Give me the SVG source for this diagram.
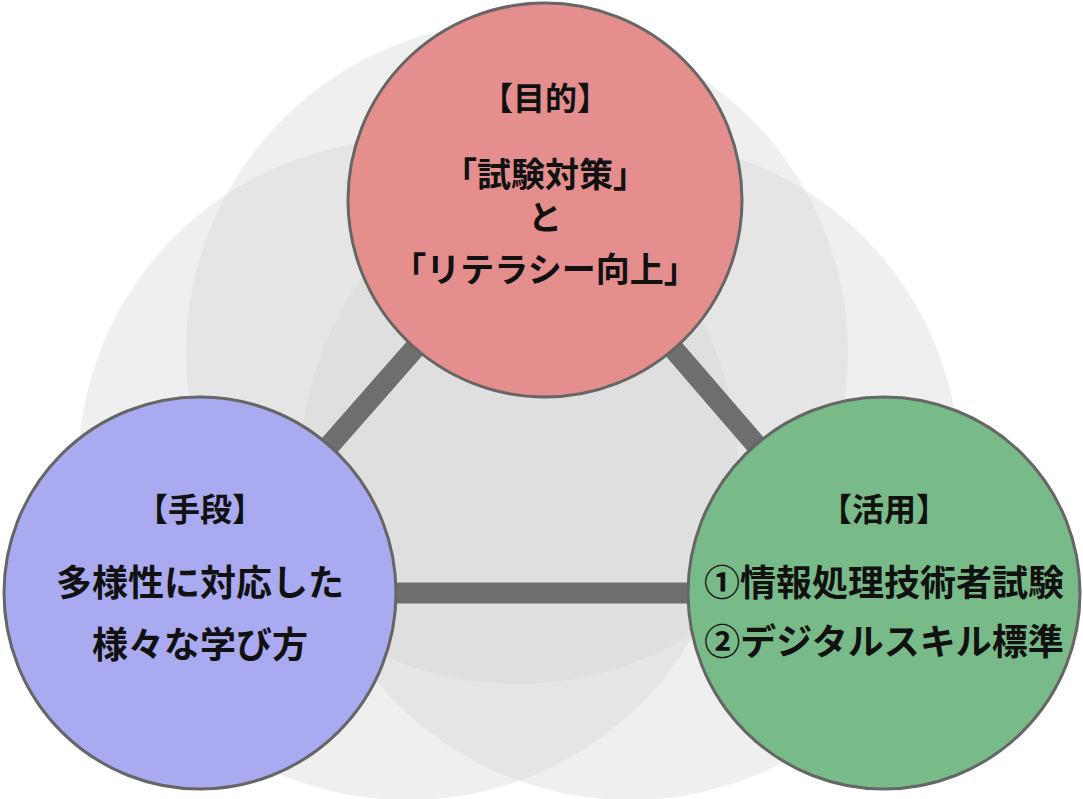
<svg xmlns="http://www.w3.org/2000/svg" width="1083" height="799" viewBox="0 0 1083 799">
<style>
.bg{fill:#d6d6d6;fill-opacity:0.4}
.node{stroke:#666;stroke-width:3}
.t{font-family:"Noto Sans CJK JP",sans-serif;font-weight:bold;font-size:36px;fill:#111;text-anchor:middle}
.h{font-size:32px}
.m{font-size:34px}
.c{stroke:#6e6e6e;stroke-width:21;fill:none}
</style>
<rect width="1083" height="799" fill="#fff"/>
<g id="background">
<circle class="bg" cx="517" cy="353" r="331"/>
<circle class="bg" cx="408" cy="470" r="330"/>
<circle class="bg" cx="630" cy="470" r="330"/>
</g>
<g id="connectors">
<line class="c" x1="545" y1="200" x2="200" y2="593"/>
<line class="c" x1="545" y1="200" x2="884" y2="593"/>
<line class="c" x1="200" y1="593" x2="884" y2="593"/>
</g>
<g id="purpose">
<circle class="node" cx="545" cy="200" r="197" fill="#e58e8e"/>
<text class="t h" x="545" y="110">【目的】</text>
<text class="t m" x="545" y="187">「試験対策」</text>
<text class="t m" x="545" y="230">と</text>
<text class="t m" x="545" y="282">「リテラシー向上」</text>
</g>
<g id="means">
<circle class="node" cx="200" cy="593" r="196" fill="#aaaaf0"/>
<text class="t h" x="200" y="521">【手段】</text>
<text class="t" x="200" y="596">多様性に対応した</text>
<text class="t" x="200" y="658">様々な学び方</text>
</g>
<g id="use">
<circle class="node" cx="884" cy="593" r="196" fill="#78bb88"/>
<text class="t h" x="884" y="521">【活用】</text>
<text class="t" x="884" y="596">①情報処理技術者試験</text>
<text class="t" x="884" y="655">②デジタルスキル標準</text>
</g>
</svg>
